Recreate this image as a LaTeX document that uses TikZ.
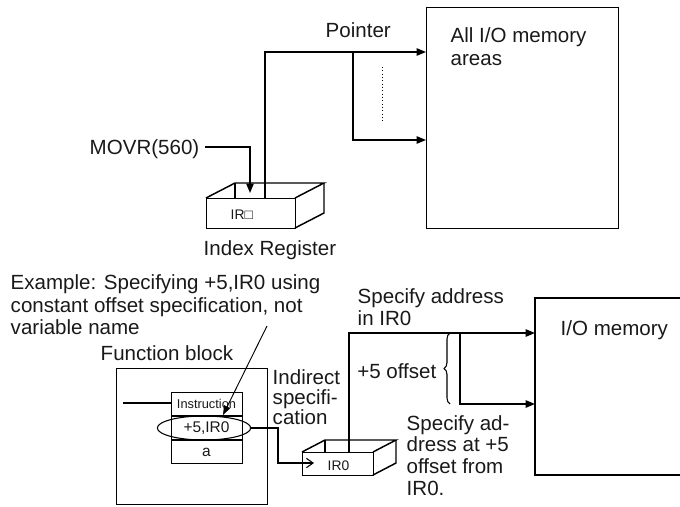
\documentclass[tikz,border=0pt]{standalone}
\usepackage{fontspec}
\setmainfont{Liberation Sans}
\usetikzlibrary{arrows.meta,decorations.pathreplacing,shapes.geometric}
\begin{document}
\begin{tikzpicture}[x=0.75pt,y=-0.75pt,line width=1.1pt,
  txt/.style={font=\fontsize{15.4}{16.5}\selectfont,inner sep=0pt,text=black!90},
  small/.style={font=\fontsize{9.6}{11}\selectfont,inner sep=0pt,text=black!90},
  irs/.style={font=\fontsize{10.4}{12}\selectfont,inner sep=0pt,text=black!90},
  mid/.style={font=\fontsize{11.6}{13}\selectfont,inner sep=0pt,text=black!90},
  arr/.style={-{Triangle[length=7pt,width=5.5pt]}},
  openarr/.style={-{Straight Barb[length=5pt,width=7pt]}},
  box/.style={draw,inner sep=0pt,anchor=north west}]
\useasboundingbox (0,0) rectangle (680,506);

% ---------- top part ----------
\node[box,minimum width=144pt,minimum height=165.75pt] (allio) at (426,7) {};
\node[txt,anchor=base west] (allt1) at (450,43) {All I/O memory};
\node[txt,anchor=base west] (allt2) at (450,66) {areas};
\node[txt,anchor=base west] (ptr) at (325,38) {Pointer};

% index register box
\node[box,minimum width=66.75pt,minimum height=22.5pt] (irreg) at (206,198) {};
\draw (206,198) -- (235,183) -- (324,183) -- (295,198);
\draw (324,183) -- (324,213) -- (295,228);
\draw (235,183) -- (235,198);
\node[irs,anchor=base west] (irtxt) at (230,219) {IR□};
\node[txt,anchor=base west] (irlbl) at (203,255) {Index Register};

\coordinate (irtop) at (265,198);
\coordinate (br) at (353,52);
\draw[arr] (irtop) |- (allio.west |- 0,52);
\draw[arr] (br) |- (allio.west |- 0,140);
\draw[dotted,line width=0.5pt] (382,67) -- (382,123);

\node[txt,anchor=base east] (movr) at (200,154) {MOVR(560)};
\coordinate (irin) at (250,193);
\draw[arr] (205,147) -| (irin);

% ---------- bottom part ----------
\node[txt,anchor=base west] (ex1) at (10,289) {Example: Specifying +5,IR0 using};
\node[txt,anchor=base west] (ex2) at (10,312) {constant offset specification, not};
\node[txt,anchor=base west] (ex3) at (10,334) {variable name};
\node[txt,anchor=base west] (fbl) at (100,360) {Function block};

\node[box,minimum width=113.25pt,minimum height=102pt] (fb) at (116,368) {};
\node[box,minimum width=53.25pt,minimum height=53.25pt] (tbl) at (171,392) {};
\draw[line width=1.5pt] (171,416) -- (242,416);
\draw (171,440) -- (242,440);
\node[small] (instr) at (206.5,404) {Instruction};
\node[mid] (p5) at (206.5,428) {+5,IR0};
\node[mid] (av) at (206.5,452) {a};
\draw (123,403) -- (tbl.west |- 0,403);
\node[draw,ellipse,line width=0.8pt,minimum width=70pt,minimum height=18pt,inner sep=0pt] (ell) at (204,428) {};
\draw[line width=0.7pt,-{Triangle[length=7pt,width=5pt]}] (267,326) -- (223,415);

\node[txt,anchor=base west] (ind1) at (272,384) {Indirect};
\node[txt,anchor=base west] (ind2) at (272,404) {specifi-};
\node[txt,anchor=base west] (ind3) at (272,424) {cation};

% IR0 box
\node[box,minimum width=53.25pt,minimum height=17.25pt] (ir0) at (302,452) {};
\draw (302,452) -- (325,440) -- (396,440) -- (373,452);
\draw (396,440) -- (396,463) -- (373,475);
\draw (325,440) -- (325,452);
\node[irs,anchor=base west] (ir0t) at (327,470) {IR0};

\draw[line width=0.8pt,openarr] (ell.east) -| (278,463) -- (314,463);

% I/O memory
\draw (690,298) -- (535,298) coordinate (iom) -- (535,475) -- (690,475);
\node[txt,anchor=base west] (iomt) at (560,335) {I/O memory};

\coordinate (ir0top) at (349,452);
\draw[arr] (ir0top) |- (iom |- 0,333);
\draw[arr] (460,333) |- (iom |- 0,404);
\draw[decorate,decoration={brace,amplitude=4.5pt},line width=0.8pt] (450,404) -- (450,333);

\node[txt,anchor=base west] (sa1) at (357,303) {Specify address};
\node[txt,anchor=base west] (sa2) at (357,325) {in IR0};
\node[txt,anchor=base east] (off) at (437,378) {+5 offset};
\node[txt,anchor=base west] (sb1) at (406,430) {Specify ad-};
\node[txt,anchor=base west] (sb2) at (406,451) {dress at +5};
\node[txt,anchor=base west] (sb3) at (406,473) {offset from};
\node[txt,anchor=base west] (sb4) at (406,495) {IR0.};
\end{tikzpicture}
\end{document}
